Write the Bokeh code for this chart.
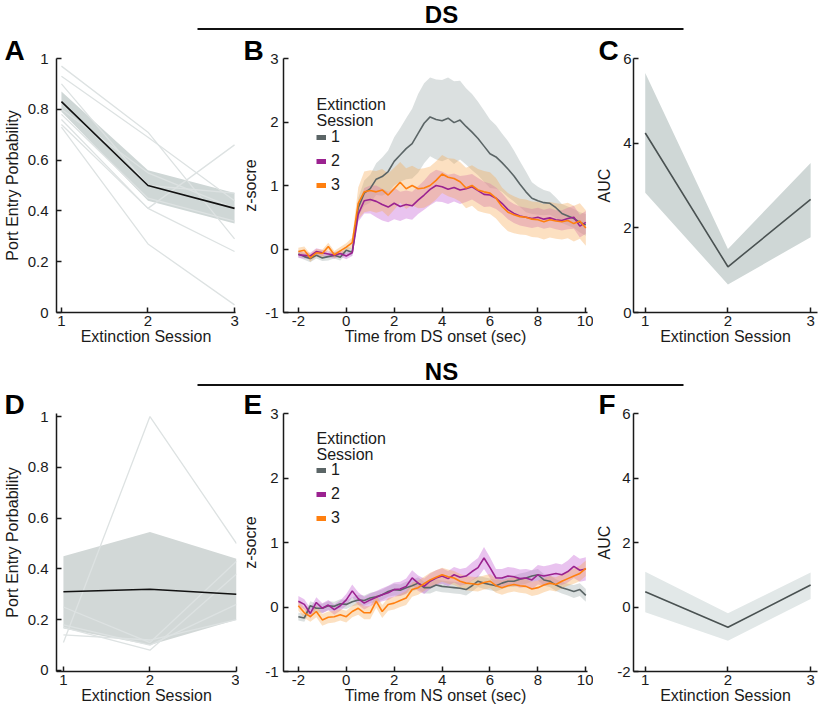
import numpy as np
from bokeh.plotting import figure
from bokeh.models import Range1d, FixedTicker, Label, Legend, LegendItem
from bokeh.layouts import column, row
from bokeh.embed import file_html
from bokeh.resources import INLINE

FONT = "Liberation Sans"
INK = "#1a1a1a"

# ---------------- data ----------------
sessions = [1, 2, 3]
session_names = ["1", "2", "3"]
prob_ticks = [0, 0.2, 0.4, 0.6, 0.8, 1]
prob_labels = ["0", "0.2", "0.4", "0.6", "0.8", "1"]
z_ticks = [-1, 0, 1, 2, 3]
z_labels = ["-1", "0", "1", "2", "3"]
time_ticks = [-2, 0, 2, 4, 6, 8, 10]
time_labels = ["-2", "0", "2", "4", "6", "8", "10"]
auc_ds_ticks = [0, 2, 4, 6]
auc_ds_labels = ["0", "2", "4", "6"]
auc_ns_ticks = [-2, 0, 2, 4, 6]
auc_ns_labels = ["-2", "0", "2", "4", "6"]

# Panel A: DS port entry probability
ds_pe_mean = [0.83, 0.50, 0.41]
ds_pe_hi = [0.87, 0.56, 0.47]
ds_pe_lo = [0.79, 0.44, 0.35]
ds_pe_subjects = [
    [0.97, 0.71, 0.29],
    [0.93, 0.69, 0.44],
    [0.90, 0.50, 0.47],
    [0.78, 0.45, 0.36],
    [0.76, 0.41, 0.24],
    [0.74, 0.41, 0.66],
    [0.73, 0.27, 0.03],
    [0.80, 0.55, 0.41],
]

# Panel D: NS port entry probability
ns_pe_mean = [0.31, 0.32, 0.30]
ns_pe_hi = [0.45, 0.545, 0.44]
ns_pe_lo = [0.165, 0.10, 0.20]
ns_pe_subjects = [
    [0.11, 1.00, 0.50],
    [0.25, 0.11, 0.43],
    [0.18, 0.10, 0.26],
    [0.17, 0.08, 0.38],
    [0.14, 0.12, 0.20],
]

# Panel C / F: AUC
auc_ds_mean = [4.24, 1.08, 2.67]
auc_ds_hi = [5.66, 1.50, 3.53]
auc_ds_lo = [2.83, 0.66, 1.78]
auc_ns_mean = [0.47, -0.63, 0.68]
auc_ns_hi = [1.09, -0.19, 1.07]
auc_ns_lo = [-0.16, -1.05, 0.25]

# Panels B / E: peri-event z-score traces
time_s = [-2.0, -1.75, -1.5, -1.25, -1.0, -0.75, -0.5, -0.25, 0.0, 0.25,
          0.5, 0.75, 1.0, 1.25, 1.5, 1.75, 2.0, 2.25, 2.5, 2.75,
          3.0, 3.25, 3.5, 3.75, 4.0, 4.25, 4.5, 4.75, 5.0, 5.25,
          5.5, 5.75, 6.0, 6.25, 6.5, 6.75, 7.0, 7.25, 7.5, 7.75,
          8.0, 8.25, 8.5, 8.75, 9.0, 9.25, 9.5, 9.75, 10.0]

ds_s1_mean = [-0.08, -0.12, -0.15, -0.10, -0.14, -0.12, -0.10, -0.13, -0.02, -0.05,
              0.65, 0.88, 0.95, 1.10, 1.14, 1.22, 1.38, 1.48, 1.58, 1.66,
              1.82, 1.98, 2.08, 2.04, 2.02, 2.06, 1.99, 2.03, 1.93, 1.84,
              1.74, 1.62, 1.50, 1.45, 1.36, 1.26, 1.15, 1.02, 0.90, 0.80,
              0.76, 0.73, 0.72, 0.65, 0.56, 0.52, 0.48, 0.42, 0.38]
ds_s1_sem = [0.05, 0.05, 0.06, 0.05, 0.05, 0.06, 0.05, 0.05, 0.06, 0.06,
             0.15, 0.20, 0.22, 0.25, 0.30, 0.33, 0.38, 0.42, 0.48, 0.55,
             0.62, 0.63, 0.62, 0.63, 0.64, 0.64, 0.65, 0.62, 0.60, 0.60,
             0.58, 0.56, 0.54, 0.50, 0.46, 0.44, 0.40, 0.36, 0.32, 0.25,
             0.22, 0.20, 0.18, 0.16, 0.15, 0.15, 0.15, 0.16, 0.17]
ds_s2_mean = [-0.09, -0.10, -0.11, -0.04, -0.06, -0.08, -0.10, -0.07, -0.11, -0.06,
              0.55, 0.76, 0.78, 0.75, 0.70, 0.66, 0.72, 0.67, 0.70, 0.68,
              0.77, 0.85, 0.94, 1.00, 0.98, 0.94, 0.97, 0.93, 0.95, 0.98,
              0.92, 0.86, 0.85, 0.80, 0.72, 0.62, 0.56, 0.52, 0.50, 0.48,
              0.50, 0.47, 0.49, 0.46, 0.45, 0.48, 0.50, 0.36, 0.42]
ds_s2_sem = [0.05, 0.05, 0.05, 0.05, 0.05, 0.05, 0.05, 0.05, 0.05, 0.05,
             0.12, 0.20, 0.22, 0.25, 0.25, 0.24, 0.25, 0.23, 0.22, 0.22,
             0.22, 0.23, 0.25, 0.25, 0.24, 0.23, 0.22, 0.22, 0.21, 0.20,
             0.20, 0.20, 0.18, 0.17, 0.16, 0.15, 0.15, 0.15, 0.15, 0.15,
             0.15, 0.15, 0.15, 0.15, 0.16, 0.17, 0.18, 0.18, 0.18]
ds_s3_mean = [-0.04, -0.02, -0.14, -0.06, -0.07, 0.04, -0.09, -0.03, 0.03, 0.10,
              0.72, 0.90, 0.92, 0.90, 0.93, 0.85, 0.95, 1.05, 0.95, 1.00,
              0.95, 0.96, 1.00, 1.08, 1.18, 1.13, 1.11, 1.06, 0.96, 1.00,
              0.93, 0.90, 0.88, 0.80, 0.67, 0.58, 0.54, 0.51, 0.50, 0.47,
              0.46, 0.43, 0.46, 0.44, 0.43, 0.45, 0.40, 0.44, 0.33]
ds_s3_sem = [0.06, 0.06, 0.06, 0.06, 0.06, 0.06, 0.06, 0.06, 0.06, 0.08,
             0.25, 0.32, 0.32, 0.33, 0.33, 0.34, 0.33, 0.32, 0.32, 0.31,
             0.31, 0.31, 0.30, 0.30, 0.30, 0.30, 0.31, 0.31, 0.32, 0.32,
             0.33, 0.33, 0.33, 0.32, 0.30, 0.30, 0.29, 0.28, 0.28, 0.28,
             0.28, 0.28, 0.28, 0.28, 0.28, 0.28, 0.28, 0.28, 0.28]

ns_s1_mean = [-0.15, -0.17, 0.02, -0.02, -0.02, 0.02, 0.01, 0.05, 0.04, 0.08,
              0.11, 0.10, 0.14, 0.16, 0.19, 0.24, 0.27, 0.26, 0.30, 0.33,
              0.37, 0.30, 0.30, 0.34, 0.32, 0.31, 0.30, 0.29, 0.27, 0.33,
              0.40, 0.37, 0.35, 0.33, 0.37, 0.40, 0.40, 0.43, 0.45, 0.48,
              0.50, 0.42, 0.40, 0.34, 0.30, 0.27, 0.24, 0.27, 0.18]
ns_s1_sem = [0.06, 0.06, 0.07, 0.07, 0.07, 0.07, 0.07, 0.07, 0.07, 0.07,
             0.08, 0.08, 0.08, 0.08, 0.08, 0.08, 0.09, 0.09, 0.09, 0.09,
             0.09, 0.09, 0.09, 0.09, 0.09, 0.09, 0.09, 0.09, 0.09, 0.09,
             0.09, 0.09, 0.09, 0.09, 0.09, 0.09, 0.09, 0.09, 0.09, 0.09,
             0.09, 0.09, 0.09, 0.09, 0.09, 0.09, 0.10, 0.10, 0.10]
ns_s2_mean = [0.09, 0.04, -0.10, 0.07, -0.02, 0.03, -0.04, 0.02, 0.11, 0.25,
              0.13, 0.06, 0.11, 0.15, 0.19, 0.22, 0.27, 0.28, 0.32, 0.45,
              0.37, 0.32, 0.40, 0.45, 0.48, 0.44, 0.50, 0.46, 0.48, 0.55,
              0.61, 0.76, 0.61, 0.45, 0.45, 0.48, 0.47, 0.44, 0.45, 0.42,
              0.50, 0.48, 0.50, 0.52, 0.50, 0.55, 0.63, 0.57, 0.59]
ns_s2_sem = [0.08, 0.08, 0.08, 0.08, 0.08, 0.08, 0.08, 0.08, 0.09, 0.10,
             0.10, 0.10, 0.10, 0.10, 0.10, 0.11, 0.11, 0.11, 0.12, 0.12,
             0.12, 0.12, 0.12, 0.12, 0.12, 0.12, 0.12, 0.13, 0.13, 0.14,
             0.15, 0.17, 0.16, 0.14, 0.14, 0.14, 0.14, 0.14, 0.14, 0.15,
             0.15, 0.15, 0.15, 0.16, 0.16, 0.17, 0.18, 0.18, 0.18]
ns_s3_mean = [0.02, -0.09, -0.15, -0.07, -0.20, -0.16, -0.15, -0.12, -0.15, -0.07,
              -0.02, -0.09, -0.09, 0.09, -0.07, 0.04, 0.06, 0.10, 0.14, 0.27,
              0.30, 0.36, 0.42, 0.46, 0.50, 0.47, 0.45, 0.40, 0.37, 0.36,
              0.35, 0.38, 0.40, 0.33, 0.30, 0.33, 0.35, 0.33, 0.32, 0.28,
              0.30, 0.34, 0.37, 0.35, 0.40, 0.44, 0.48, 0.52, 0.60]
ns_s3_sem = [0.08, 0.08, 0.08, 0.09, 0.09, 0.09, 0.09, 0.09, 0.09, 0.09,
             0.10, 0.10, 0.10, 0.10, 0.10, 0.10, 0.10, 0.10, 0.11, 0.11,
             0.11, 0.11, 0.11, 0.11, 0.11, 0.11, 0.11, 0.11, 0.11, 0.11,
             0.11, 0.11, 0.11, 0.11, 0.11, 0.11, 0.11, 0.11, 0.11, 0.11,
             0.11, 0.11, 0.11, 0.11, 0.11, 0.11, 0.12, 0.12, 0.12]

# ---------------- styles ----------------
SESSION_LINE = ["#5b6566", "#9b2290", "#ff7f0f"]
SESSION_BAND = ["#b7c2c2", "#c86ad6", "#f7a54e"]
SESSION_BAND_ALPHA = [0.5, 0.4, 0.35]

W_TOTAL = 820


def style_axis(ax, tick_standoff, label_standoff):
    ax.axis_line_width = 1.5
    ax.axis_line_color = INK
    ax.major_tick_line_width = 1.5
    ax.major_tick_line_color = INK
    ax.major_tick_in = 5
    ax.major_tick_out = 0
    ax.minor_tick_line_color = None
    ax.major_label_text_font = FONT
    ax.major_label_text_font_size = "15px"
    ax.major_label_text_color = INK
    ax.major_label_standoff = tick_standoff
    ax.axis_label_text_font = FONT
    ax.axis_label_text_font_size = "16px"
    ax.axis_label_text_font_style = "normal"
    ax.axis_label_text_color = INK
    ax.axis_label_standoff = label_standoff


def panel(w, h, xr, yr, borders, xticks, xlabels, yticks, ylabels, xlab, ylab,
          xstand, ystand, letter, letter_off, letter_standoff):
    bl, br, bt, bb = borders
    p = figure(width=w, height=h, x_range=Range1d(*xr), y_range=Range1d(*yr),
               output_backend="svg", toolbar_location=None,
               min_border_left=bl, min_border_right=br,
               min_border_top=bt, min_border_bottom=bb)
    p.xgrid.visible = False
    p.ygrid.visible = False
    p.outline_line_color = None
    p.background_fill_color = "white"
    p.border_fill_color = "white"
    p.xaxis.ticker = FixedTicker(ticks=xticks)
    p.xaxis.major_label_overrides = dict(zip(xticks, xlabels))
    p.yaxis.ticker = FixedTicker(ticks=yticks)
    p.yaxis.major_label_overrides = dict(zip(yticks, ylabels))
    p.xaxis.axis_label = xlab
    p.yaxis.axis_label = ylab
    style_axis(p.xaxis[0], *xstand)
    style_axis(p.yaxis[0], *ystand)
    # panel letter as the figure title
    p.title.text = letter
    p.title.align = "left"
    p.title.offset = letter_off
    p.title.standoff = letter_standoff
    p.title.text_font = FONT
    p.title.text_font_size = "28px"
    p.title.text_font_style = "bold"
    p.title.text_color = "#000000"
    return p


def prob_panel(p, mean, hi, lo, subjects, band_color):
    p.varea(x=sessions, y1=lo, y2=hi, fill_color=band_color, fill_alpha=1.0)
    p.multi_line(xs=[sessions] * len(subjects), ys=subjects, line_color="#dde2e2", line_width=1.3)
    p.line(sessions, mean, line_color="#111111", line_width=1.6)


def auc_panel(p, mean, hi, lo, band_color):
    p.varea(x=sessions, y1=lo, y2=hi, fill_color=band_color, fill_alpha=1.0)
    p.line(sessions, mean, line_color="#4a5252", line_width=1.6)


def trace_panel(p, means, sems, leg_vy, title_sy):
    t = np.array(time_s)
    for m, s, bc, ba in zip(means, sems, SESSION_BAND, SESSION_BAND_ALPHA):
        m = np.array(m); s = np.array(s)
        p.varea(x=t, y1=m - s, y2=m + s, fill_color=bc, fill_alpha=ba)
    for m, lc in zip(means, SESSION_LINE):
        p.line(t, m, line_color=lc, line_width=1.6)
    # legend keys (no visible data; only their swatches are shown)
    keys = [p.line(x=[np.nan], y=[np.nan], line_color=lc, line_width=5, line_cap="butt")
            for lc in SESSION_LINE]
    leg = Legend(items=[LegendItem(label=n, renderers=[r]) for n, r in zip(session_names, keys)],
                 location=(33, leg_vy), orientation="vertical",
                 glyph_width=10, glyph_height=20, label_height=20, label_standoff=5,
                 spacing=4, padding=0, margin=0, border_line_color=None,
                 background_fill_alpha=0.0,
                 label_text_font=FONT, label_text_font_size="16px", label_text_color=INK)
    p.add_layout(leg)
    p.add_layout(Label(x=33, y=title_sy, x_units="screen", y_units="screen",
                       text="Extinction\nSession", text_font=FONT, text_font_size="16px",
                       text_color=INK, text_baseline="top", text_align="left",
                       text_line_height=0.95))


def header(text, h, text_top, line_y):
    p = figure(width=W_TOTAL, height=h, x_range=Range1d(0, W_TOTAL), y_range=Range1d(0, h),
               output_backend="svg", toolbar_location=None, min_border=0,
               x_axis_type=None, y_axis_type=None)
    p.grid.visible = False
    p.outline_line_color = None
    p.border_fill_color = "white"
    p.segment(x0=[197], y0=[line_y], x1=[683], y1=[line_y], line_width=2, line_color="#111111")
    p.add_layout(Label(x=441, y=text_top, text=text, text_font=FONT, text_font_style="bold",
                       text_font_size="24px", text_align="center", text_baseline="top",
                       text_color="#000000"))
    return p


# ---------------- row 1 (DS) ----------------
H1 = 322
tb1, bb1 = 26, 42
pA = panel(239, H1, (0.943, 3.011), (0, 1), (53, 4, tb1, bb1), sessions, session_names,
           prob_ticks, prob_labels, "Extinction Session", "Port Entry Porbability",
           (3, -1), (8, 4), "A", -52, -14)
prob_panel(pA, ds_pe_mean, ds_pe_hi, ds_pe_lo, ds_pe_subjects, "#cfd7d6")

pB = panel(354, H1, (-2.62, 10.07), (-1, 3), (41, 6, tb1, bb1), time_ticks, time_labels,
           z_ticks, z_labels, "Time from DS onset (sec)", "z-socre",
           (3, -1), (5, 3), "B", -40, -14)
trace_panel(pB, [ds_s1_mean, ds_s2_mean, ds_s3_mean], [ds_s1_sem, ds_s2_sem, ds_s3_sem], 117, 217)

pC = panel(227, H1, (0.858, 3.083), (0, 6), (36, 3, tb1, bb1), sessions, session_names,
           auc_ds_ticks, auc_ds_labels, "Extinction Session", "AUC",
           (3, -1), (2, 7), "C", -35, -14)
auc_panel(pC, auc_ds_mean, auc_ds_hi, auc_ds_lo, "#cfd7d6")

# ---------------- row 2 (NS) ----------------
H2 = 321
tb2, bb2 = 25, 38
pD = panel(239, H2, (0.92, 3.0), (-0.004, 1.012), (53, 3, tb2, bb2), sessions, session_names,
           prob_ticks, prob_labels, "Extinction Session", "Port Entry Porbability",
           (3, -1), (8, 4), "D", -52, -12)
prob_panel(pD, ns_pe_mean, ns_pe_hi, ns_pe_lo, ns_pe_subjects, "#d2d8d7")

pE = panel(354, H2, (-2.62, 10.07), (-1, 3), (41, 6, tb2, bb2), time_ticks, time_labels,
           z_ticks, z_labels, "Time from NS onset (sec)", "z-socre",
           (3, -1), (5, 3), "E", -40, -12)
trace_panel(pE, [ns_s1_mean, ns_s2_mean, ns_s3_mean], [ns_s1_sem, ns_s2_sem, ns_s3_sem], 143, 242)

pF = panel(227, H2, (0.858, 3.083), (-2, 6), (36, 3, tb2, bb2), sessions, session_names,
           auc_ns_ticks, auc_ns_labels, "Extinction Session", "AUC",
           (3, -1), (3, 1), "F", -35, -12)
auc_panel(pF, auc_ns_mean, auc_ns_hi, auc_ns_lo, "#e2e8e8")

hDS = header("DS", 32, 31.5, 3.5)
hNS = header("NS", 34, 30.5, 3.5)

layout = column(hDS, row(pA, pB, pC), hNS, row(pD, pE, pF))

with open("out.html", "w") as f:
    f.write(file_html(layout, INLINE))
